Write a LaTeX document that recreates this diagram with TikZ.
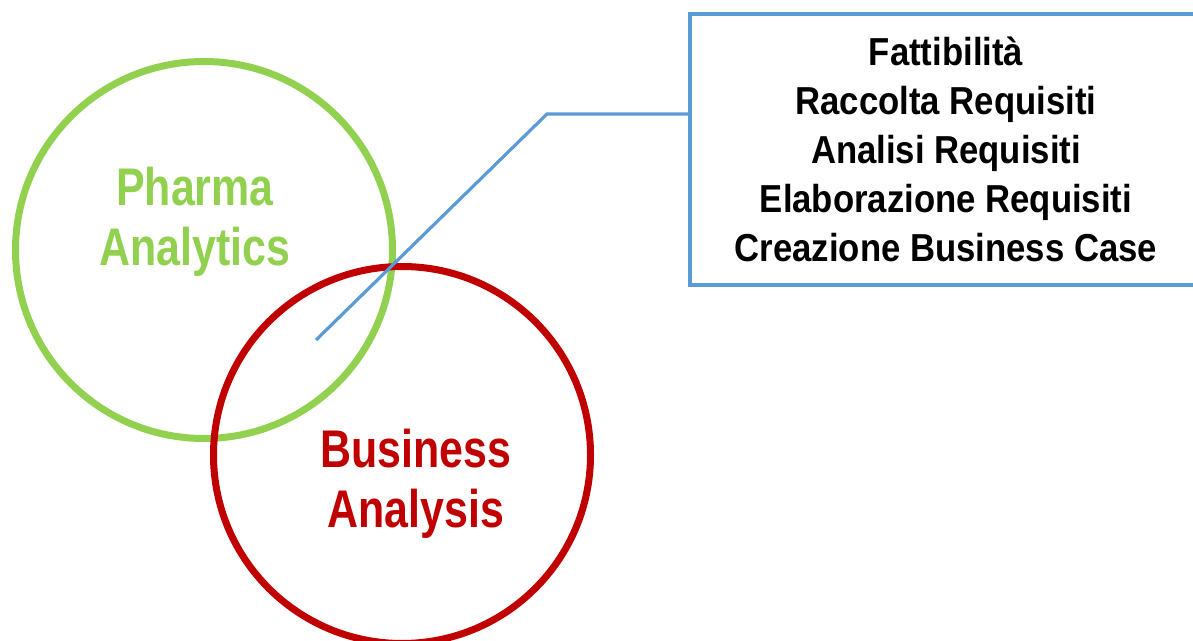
\documentclass[tikz,border=0pt]{standalone}
\usepackage{fontspec}
\newfontfamily\narrowsans[FakeStretch=0.81]{Liberation Sans}
\newfontfamily\boxsans[FakeStretch=0.89]{Liberation Sans}
\usetikzlibrary{positioning,calc}
\definecolor{pagreen}{HTML}{92D050}
\definecolor{bared}{HTML}{C00000}
\definecolor{callblue}{HTML}{5B9BD5}
\tikzset{
  venn/.style = {circle, inner sep=0pt, minimum size=188.5pt, line width=3.5pt},
  venn_g/.style = {venn, draw=pagreen},
  venn_r/.style = {venn, draw=bared},
  venn_txt/.style = {align=center, inner sep=0pt, font=\narrowsans\bfseries\fontsize{26.5}{30}\selectfont},
  note_box/.style = {draw=callblue, line width=1.6pt, align=center, inner sep=0pt,
    minimum width=256pt, minimum height=135.5pt,
    font=\boxsans\bfseries\fontsize{19.5}{24.5}\selectfont},
  call_line/.style = {draw=callblue, line width=1.6pt}
}
\begin{document}
\begin{tikzpicture}[x=0.5pt, y=-0.5pt]
\path[use as bounding box, clip] (0,0) rectangle (1193,641);
% the two sets
\node [venn_g] (pharma) at (204,250) {};
\node [venn_r] (business) at (402,455) {};
\node [venn_txt, text=pagreen] (pharma_t) at (195,222) {Pharma\\Analytics};
\node [venn_txt, text=bared] (business_t) at (416,484) {Business\\Analysis};
% callout
\node [note_box] (tasks) at (946,149.5) {Fattibilità\\Raccolta Requisiti\\Analisi Requisiti\\Elaborazione Requisiti\\Creazione Business Case};
\coordinate (tip) at (316,340);
\coordinate (knee) at (547,114);
\draw [call_line] (tip) -- (knee) -- (knee -| tasks.west);
\end{tikzpicture}
\end{document}
